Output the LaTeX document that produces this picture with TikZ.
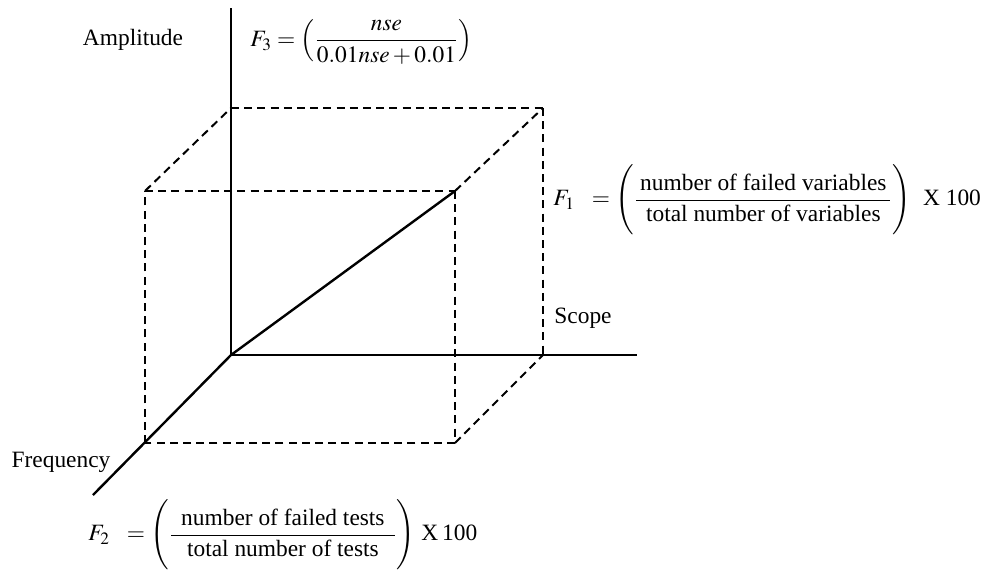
\documentclass[tikz,border=0pt]{standalone}
\usepackage{amsmath}
\usepackage{mathptmx}
\usepackage[no-math]{fontspec}
\setmainfont{Liberation Serif}
\newcommand{\rmtxt}[1]{\mbox{\rmfamily #1}}
\tikzset{
    axis/.style={line width=1.2pt},
    hidden/.style={line width=1pt, dash pattern=on 4pt off 2.6pt},
    lbl/.style={inner sep=0pt, font=\fontsize{11.7}{14}\selectfont},
}
\begin{document}
\begin{tikzpicture}[x=0.5pt,y=-0.5pt]
            \useasboundingbox (0,0) rectangle (995,569);
            % axes
            \coordinate (O) at (231,355);
            \coordinate (amp) at (231,8);
            \coordinate (scp) at (637,355);
            \coordinate (frq) at (93,495);
            \draw[axis] (amp) -- (O) -- (scp);
            \draw[axis] (O) -- (frq);
            % box corners
            \coordinate (btl) at (231,108);
            \coordinate (btr) at (543,108);
            \coordinate (bbr) at (543,355);
            \coordinate (ftl) at (145,191);
            \coordinate (ftr) at (455,191);
            \coordinate (fbr) at (455,443);
            \coordinate (fbl) at (145,443);
            \foreach \a/\b in {btl/btr, btr/bbr, ftl/ftr, ftr/fbr, fbr/fbl, fbl/ftl, ftl/btl, ftr/btr, fbr/bbr} {
                \draw[hidden] (\a) -- (\b);
            }
            \draw[axis] (O) -- (ftr);
            % labels
            \node[lbl] (amplbl) at (133,40) {Amplitude};
            \node[lbl] (scplbl) at (583,318) {Scope};
            \node[lbl] (frqlbl) at (61,462) {Frequency};
            \node[lbl, anchor=west] (f3) at (250,42)
                {$F_3 = \Bigl(\dfrac{nse}{0.01nse + 0.01}\Bigr)$};
            \node[lbl, anchor=west] (f1) at (553,200)
                {$F_1\ \ = \Biggl(\dfrac{\hspace{2pt}\rmtxt{number of failed variables}\hspace{2pt}}{\rmtxt{total number of variables}}\Biggr)$\ \ X\ 100};
            \node[lbl, anchor=west] (f2) at (88,535)
                {$F_2\ \ = \Biggl(\dfrac{\hspace{5pt}\rmtxt{number of failed tests}\hspace{5pt}}{\rmtxt{total number of tests}}\Biggr)$\ X\,100};
        \end{tikzpicture}
\end{document}
